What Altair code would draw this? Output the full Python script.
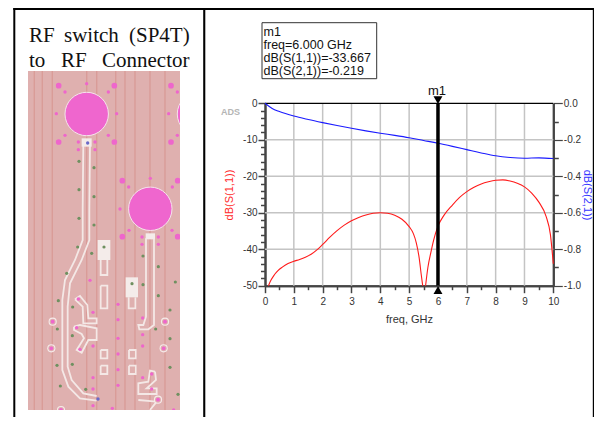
import altair as alt
import pandas as pd

# ---- chart values ----
s11_freq_a = [0.12,0.2,0.3,0.4,0.5,0.6,0.8,1.0,1.2,1.4,1.6,1.8,2.0,2.25,2.5,2.75,3.0,3.25,3.5,3.75,4.0,4.25,4.5,4.75,5.0,5.15,5.25,5.35,5.42,5.47]
s11_db_a = [-50,-48.6,-47.3,-46.3,-45.5,-44.9,-43.9,-43.3,-42.8,-42.2,-41.4,-40.2,-38.7,-36.7,-34.9,-33.4,-32.2,-31.3,-30.6,-30.15,-30.0,-30.15,-30.7,-31.8,-33.8,-35.8,-38.3,-42.5,-47,-50]
s11_freq_b = [5.57,5.65,5.75,5.85,6.0,6.2,6.5,6.75,7.0,7.25,7.5,7.75,8.0,8.25,8.5,8.75,9.0,9.25,9.5,9.75,9.9,10.0]
s11_db_b = [-50,-45,-41,-37.5,-33.667,-30.8,-27.9,-25.8,-24.2,-23.0,-22.1,-21.5,-21.1,-21.0,-21.3,-21.9,-22.9,-24.6,-27.1,-31,-36,-44]
s21_freq = [0,0.1,0.25,0.5,1,1.5,2,2.5,3,3.5,4,4.5,5,5.5,6,6.5,7,7.5,8,8.5,9,9.5,10]
s21_db = [0,-0.012,-0.028,-0.045,-0.07,-0.089,-0.106,-0.122,-0.137,-0.151,-0.164,-0.176,-0.189,-0.204,-0.219,-0.236,-0.254,-0.272,-0.288,-0.297,-0.301,-0.299,-0.303]
x_major = list(range(0, 11))
x_minor = [0.5,1.5,2.5,3.5,4.5,5.5,6.5,7.5,8.5,9.5]
left_major = [-50,-40,-30,-20,-10,0]
left_minor = [v for v in range(-48, 0, 2) if v % 10 != 0]
right_major = [-1.0,-0.8,-0.6,-0.4,-0.2,0.0]
right_minor = [-0.9,-0.7,-0.5,-0.3,-0.1]
grid_x = [1,2,3,4,5,6,7,8,9]
grid_y = [-10,-20,-30,-40]
marker_freq = 6
marker_lines = ["m1", "freq=6.000 GHz", "dB(S(1,1))=-33.667", "dB(S(2,1))=-0.219"]
heading_words = [("RF",29,42),("switch",64,42),("(SP4T)",129,42),("to",29,67),("RF",61,67),("Connector",102,67)]

# ---- board picture, read in page pixels ----
stripe_x = [34.3,42.3,52.3,86.7,96.7,115.7,125,135,150,165]
big_pads = [(86.7,114),(150.3,208.8),(199,114)]
def z3(x,y): return (x/3, y/3)
def z4(x,y): return (x/3, y/3+210)
dots_big = [z3(*p) for p in [(176,257),(343,257),(176,426),(343,426),(513,257),(513,426),(367,542),(533,542)]] + [z4(367,80),z4(533,80)]
dots_small = [z3(*p) for p in [(195,276),(260,251),(325,276),(169,341),(350,341),(195,406),(325,406),(235,426),(285,426),(235,449),(285,449),(532,276),(506,341),(532,406),(386,561),(451,535),(517,561),(360,627)]] + \
    [z4(*p) for p in [(387,61),(516,61),(426,81),(475,81),(426,103),(475,103),(270,211),(235,267),(279,307),(354,283),(354,329),(354,385),(354,432),(354,479),(354,526),(279,408),(279,503),(279,537),(279,587),(337,595),(428,324),(428,374),(428,408),(428,503),(521,600),(455,492),(455,537),(230,353),(240,418)]]
dots_green = [z3(*p) for p in [(237,484),(282,503),(237,569),(282,590)]] + \
    [z4(*p) for p in [(237,25),(282,45),(233,111),(275,130),(312,111),(200,190),(175,272),(218,291),(172,357),(217,377),(171,466),(217,463),(181,528),(257,538),(429,138),(475,170),(429,224),(396,221),(475,257),(526,216),(510,300),(467,357),(510,386),(510,472),(534,553)]]
rings = [z4(*p) for p in [(158,335),(154,415),(495,335),(491,415),(474,569),(183,600)]]
ring_dots = rings
blue_spots = [z3(263,429), z4(294,567)]
trace_paths = [
    [z3(250,430)] + [z4(*p) for p in [(248,0),(248,90),(225,150),(195,210),(187,270),(187,480),(205,530),(240,565),(290,572)]],
    [z3(270,430)] + [z4(*p) for p in [(268,0),(268,90),(245,150),(210,220),(203,290),(203,470),(215,510),(250,550),(290,558)]],
    [z4(*p) for p in [(438,85),(438,320),(430,345),(415,345),(418,358),(445,358),(462,345),(462,85)]],
    [z4(*p) for p in [(225,268),(248,290),(250,340),(290,340),(290,325),(265,325),(262,285),(240,258),(225,268)]],
    [z4(*p) for p in [(222,350),(240,345),(290,355),(290,390),(265,390),(245,428),(230,420),(252,385),(245,372),(222,360),(222,350)]],
    [z4(*p) for p in [(302,150),(302,195),(322,195),(322,150)]],
    [z4(*p) for p in [(386,262),(386,295),(406,295),(406,262)]],
    [z4(*p) for p in [(302,227),(302,295),(322,295),(322,227),(302,227)]],
    [z4(*p) for p in [(302,420),(302,445),(322,445),(322,420),(302,420)]],
    [z4(*p) for p in [(302,467),(302,492),(322,492),(322,467),(302,467)]],
    [z4(*p) for p in [(387,420),(387,445),(407,445),(407,420),(387,420)]],
    [z4(*p) for p in [(387,467),(387,492),(407,492),(407,467),(387,467)]],
    [z4(*p) for p in [(465,485),(450,482),(445,515),(415,520),(415,552),(470,552),(470,535),(440,535),(468,510),(465,485)]],
    [z4(*p) for p in [(415,570),(470,575),(450,600)]],
]
white_pads = [(z4(293,90),z4(331,150)),(z4(377,202),z4(414,262)),(z4(437,70),z4(465,88)),(z3(245,415),z3(275,440))]

# ---- scales ----
W, H = 586, 409
px = alt.Scale(domain=[8,8+W], range=[0,W], nice=False, zero=False)
py = alt.Scale(domain=[8,8+H], range=[0,H], nice=False, zero=False)
PLOT_L, PLOT_R, PLOT_T, PLOT_B = 257.0, 545.3, 95.3, 277.7
fx = alt.Scale(domain=[0,10], range=[PLOT_L,PLOT_R], nice=False, zero=False)
ly = alt.Scale(domain=[-50,0], range=[PLOT_B,PLOT_T], nice=False, zero=False)
ry = alt.Scale(domain=[-1,0], range=[PLOT_B,PLOT_T], nice=False, zero=False)
FONT = "Liberation Sans"
AXC = "#444444"
HYPHEN_LABEL = "replace(datum.label, '\u2212', '-')"

def X(f="x"): return alt.X(f"{f}:Q", scale=px, axis=None)
def Y(f="y"): return alt.Y(f"{f}:Q", scale=py, axis=None)
def pts(lst): return pd.DataFrame(lst, columns=["x","y"])

def boxes(rows, color, **kw):
    d = pd.DataFrame(rows, columns=["x","x2","y","y2"])
    return alt.Chart(d).mark_rect(color=color, **kw).encode(x=X(), x2="x2:Q", y=Y(), y2="y2:Q")

def dots(lst, color, r, **kw):
    return alt.Chart(pts(lst)).mark_point(filled=True, shape="circle", color=color, opacity=1, size=3.1416*r*r, **kw).encode(x=X(), y=Y())

layers = []
# board
layers.append(boxes([(28,180,71,410)], "#DFB0AF"))
d = pd.DataFrame({"x":stripe_x,"a":[71]*len(stripe_x),"b":[410]*len(stripe_x)})
layers.append(alt.Chart(d).mark_rule(color="#D99C98", size=1.4).encode(x=X(), y=alt.Y("a:Q", scale=py, axis=None), y2="b:Q"))
rows = []
for k, path in enumerate(trace_paths):
    for i, (x, y) in enumerate(path):
        rows.append({"id":k,"i":i,"x":x,"y":y})
layers.append(alt.Chart(pd.DataFrame(rows)).mark_line(color="#F4E8E6", strokeWidth=1.8).encode(x=X(), y=Y(), detail="id:N", order="i:Q"))
layers.append(boxes([(a[0],b[0],a[1],b[1]) for a,b in white_pads], "#F4ECEA"))
layers.append(dots(dots_green, "#6F9060", 1.8))
layers.append(dots(dots_small, "#EE66CC", 1.9))
layers.append(dots(dots_big, "#EE66CC", 3.2))
layers.append(dots(rings, "#F6EBEA", 4.6))
layers.append(dots(rings, "#DFB0AF", 3.4))
layers.append(dots(ring_dots, "#EE66CC", 2.2))
layers.append(dots(blue_spots, "#6A6AC8", 1.9))
layers.append(alt.Chart(pts(big_pads)).mark_point(filled=True, shape="circle", color="#EF66CE", opacity=1, stroke="#F6E3EC", strokeWidth=1, size=3.1416*24.5*24.5).encode(x=X(), y=Y()))
# white margins around the picture and the table frame
layers.append(boxes([(180,226,60,8+H),(15,204,410,8+H)], "#FFFFFF"))
layers.append(boxes([(13.3,15.3,8,8+H),(203.2,205.3,8,8+H),(8+W-1.2,8+W,8,8+H),(13.3,8+W,8,10)], "#000000"))
# heading
hd = pd.DataFrame(heading_words, columns=["t","x","y"])
layers.append(alt.Chart(hd).mark_text(font="Liberation Serif", fontSize=21, align="left", baseline="alphabetic", color="#111111").encode(x=X(), y=Y(), text="t:N"))

# grid
gx = pd.DataFrame({"f":grid_x,"a":[-50]*len(grid_x),"b":[0]*len(grid_x)})
layers.append(alt.Chart(gx).mark_rule(color="#C4C4C4", size=1.5).encode(x=alt.X("f:Q", scale=fx, axis=None), y=alt.Y("a:Q", scale=ly, axis=None), y2="b:Q"))
gy = pd.DataFrame({"v":grid_y,"a":[0]*len(grid_y),"b":[10]*len(grid_y)})
layers.append(alt.Chart(gy).mark_rule(color="#C4C4C4", size=1.5).encode(y=alt.Y("v:Q", scale=ly, axis=None), x=alt.X("a:Q", scale=fx, axis=None), x2="b:Q"))

# axes
def ax_y(values, scale, orient, offset, size, labels, fmt=None, width=1.5):
    kw = dict(values=values, orient=orient, offset=offset, tickSize=size, tickColor=AXC, tickWidth=width,
              domainColor=AXC, domainWidth=2, grid=False, title=None, labels=labels, labelFont=FONT,
              labelFontSize=10, labelColor="#333333", labelPadding=1, labelOverlap=False, labelFlush=False,
              labelExpr=HYPHEN_LABEL)
    if fmt: kw["format"] = fmt
    d = pd.DataFrame({"v":values})
    return alt.Chart(d).mark_point(opacity=0).encode(y=alt.Y("v:Q", scale=scale, axis=alt.Axis(**kw)))

def ax_x(values, size, labels):
    d = pd.DataFrame({"v":values})
    a = alt.Axis(values=values, orient="bottom", offset=-(H-PLOT_B), tickSize=size, tickColor=AXC, tickWidth=1.5,
                 domainColor=AXC, domainWidth=2, grid=False, title=None, labels=labels, labelFont=FONT,
                 labelFontSize=10, labelColor="#333333", labelPadding=4, labelOverlap=False, labelFlush=False, format="d")
    return alt.Chart(d).mark_point(opacity=0).encode(x=alt.X("v:Q", scale=fx, axis=a))

layers += [
    ax_y(left_major, ly, "left", -PLOT_L, 7, True, "d"),
    ax_y(left_minor, ly, "left", -PLOT_L, 4.5, False),
    ax_y(right_major, ry, "right", -(W-PLOT_R), 9, True, ".1f", 1.2),
    ax_y(right_minor, ry, "right", -(W-PLOT_R), 5, False),
    ax_x(x_major, 7, True),
    ax_x(x_minor, 4, False),
]
# top border of the plot
layers.append(alt.Chart(pd.DataFrame({"a":[0],"b":[10],"y":[0]})).mark_rule(color="#000000", size=1.2).encode(
    x=alt.X("a:Q", scale=fx, axis=None), x2="b:Q", y=alt.Y("y:Q", scale=ly, axis=None)))

# curves
s11 = pd.concat([pd.DataFrame({"f":s11_freq_a,"v":s11_db_a,"seg":"a"}), pd.DataFrame({"f":s11_freq_b,"v":s11_db_b,"seg":"b"})])
layers.append(alt.Chart(s11).mark_line(color="#FF1A1A", strokeWidth=1.1, interpolate="monotone").encode(
    x=alt.X("f:Q", scale=fx, axis=None), y=alt.Y("v:Q", scale=ly, axis=None), detail="seg:N"))
layers.append(alt.Chart(pd.DataFrame({"f":s21_freq,"v":s21_db})).mark_line(color="#1A1AFF", strokeWidth=1.1, interpolate="monotone").encode(
    x=alt.X("f:Q", scale=fx, axis=None), y=alt.Y("v:Q", scale=ry, axis=None)))

# marker
mk = pd.DataFrame({"f":[marker_freq],"a":[-50],"b":[0],"top":[0.9],"bot":[-51.2]})
layers.append(alt.Chart(mk).mark_rule(color="#000000", size=3.5).encode(x=alt.X("f:Q", scale=fx, axis=None), y=alt.Y("a:Q", scale=ly, axis=None), y2="b:Q"))
layers.append(alt.Chart(mk).mark_point(filled=True, shape="triangle-down", color="#000000", opacity=1, size=80).encode(x=alt.X("f:Q", scale=fx, axis=None), y=alt.Y("top:Q", scale=ly, axis=None)))
layers.append(alt.Chart(mk).mark_point(filled=True, shape="triangle-up", color="#000000", opacity=1, size=80).encode(x=alt.X("f:Q", scale=fx, axis=None), y=alt.Y("bot:Q", scale=ly, axis=None)))

def text(t, x, y, size=11, color="#333333", angle=None, align="center", baseline="alphabetic", font=FONT, **kw):
    d = pd.DataFrame({"t":[t],"x":[x],"y":[y]})
    mk_kw = dict(font=font, fontSize=size, color=color, align=align, baseline=baseline, **kw)
    if angle is not None: mk_kw["angle"] = angle
    return alt.Chart(d).mark_text(**mk_kw).encode(x=X(), y=Y(), text="t:N")

layers.append(text("m1", 437, 95, size=13, color="#111111"))
layers.append(text("freq, GHz", 409.5, 323, size=11))
layers.append(text("dB(S(1,1))", 233, 195, size=11, color="#FF2A2A", angle=270))
layers.append(text("dB(S(2,1))", 584, 195, size=11, color="#3333FF", angle=90))
layers.append(text("ADS", 230.5, 115, size=9, color="#B5B5B5", fontWeight="bold"))

# marker read-out box
layers.append(boxes([(262,376.7,22.7,78.7)], "#FFFFFF", stroke="#333333", strokeWidth=1))
for line, yy in zip(marker_lines, [36,49,62,75]):
    layers.append(text(line, 263.5, yy, size=12.5, color="#111111", align="left"))

chart = alt.layer(*layers).resolve_scale(x="independent", y="independent").properties(
    width=W, height=H, padding=0, background="#FFFFFF", autosize=alt.AutoSizeParams(type="none")
).configure_view(stroke=None)

chart.save("out.html", embed_options={"renderer": "svg", "actions": False})
